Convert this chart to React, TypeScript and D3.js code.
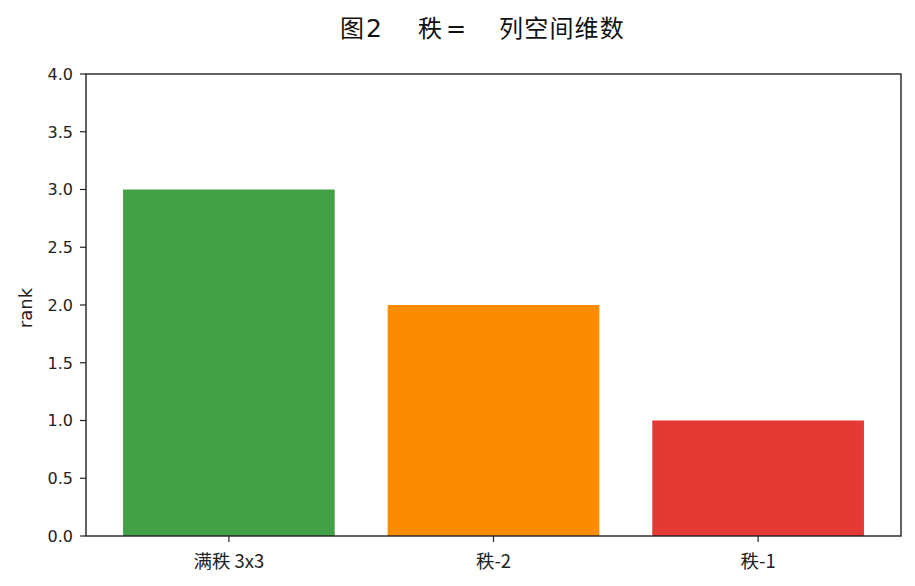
import React from "react";
import * as d3 from "d3";

const categories = ["满秩 3x3", "秩-2", "秩-1"];
const ranks = [3, 2, 1];
const barColors = ["#43a047", "#fb8c00", "#e53935"];
const yTicks = [0, 0.5, 1, 1.5, 2, 2.5, 3, 3.5, 4];
const titleParts = ["图", "2", "秩", "=", "列空间维数"];
const yLabel = "rank";

const W = 915;
const H = 586;
const M = { left: 86, right: 901, top: 74, bottom: 536 };
const FONT = "'DejaVu Sans', 'Noto Sans CJK SC', sans-serif";
const CJK = "'Noto Sans CJK SC', sans-serif";
const titleX = [340, 366, 418, 446, 499];
const titleFonts = [CJK, "'DejaVu Sans'", CJK, "'DejaVu Sans'", CJK];

export default function App() {
  const x = d3.scaleLinear().domain([-0.54, 2.54]).range([M.left, M.right]);
  const y = d3.scaleLinear().domain([0, 4]).range([M.bottom, M.top]);
  const bw = x(0.4) - x(-0.4);
  return (
    <svg width={W} height={H} style={{ position: "absolute", left: 0, top: 0, background: "#fff" }} fontFamily={FONT}>
      <rect x={0} y={0} width={W} height={H} fill="#fff" />
      <text y={37} fontSize={24} fill="#111" letterSpacing={1.2} fontFamily={CJK}>
        {titleParts.map((p, i) => (
          <tspan key={i} x={titleX[i]} fontFamily={titleFonts[i]} fontSize={i === 1 ? 25 : 24}>{p}</tspan>
        ))}
      </text>
      {ranks.map((r, i) => (
        <rect key={i} x={x(i) - bw / 2} y={y(r)} width={bw} height={y(0) - y(r)} fill={barColors[i]} />
      ))}
      {yTicks.map((t) => (
        <g key={t}>
          <line x1={M.left - 6} x2={M.left} y1={y(t)} y2={y(t)} stroke="#222" strokeWidth={1.2} />
          <text x={M.left - 13} y={y(t)} dy="0.36em" textAnchor="end" fontSize={16} fill="#222">
            {t.toFixed(1)}
          </text>
        </g>
      ))}
      {categories.map((c, i) => (
        <g key={c}>
          <line x1={x(i)} x2={x(i)} y1={M.bottom} y2={M.bottom + 6} stroke="#222" strokeWidth={1.2} />
          <text x={x(i)} y={M.bottom + 32} textAnchor="middle" fontSize={18.5} fill="#222" fontFamily={CJK}>
            {c}
          </text>
        </g>
      ))}
      <text transform={`translate(32,${(M.top + M.bottom) / 2 + 3}) rotate(-90)`} textAnchor="middle" fontSize={18} fill="#222">
        {yLabel}
      </text>
      <rect x={M.left} y={M.top} width={M.right - M.left} height={M.bottom - M.top} fill="none" stroke="#222" strokeWidth={1.4} />
    </svg>
  );
}
